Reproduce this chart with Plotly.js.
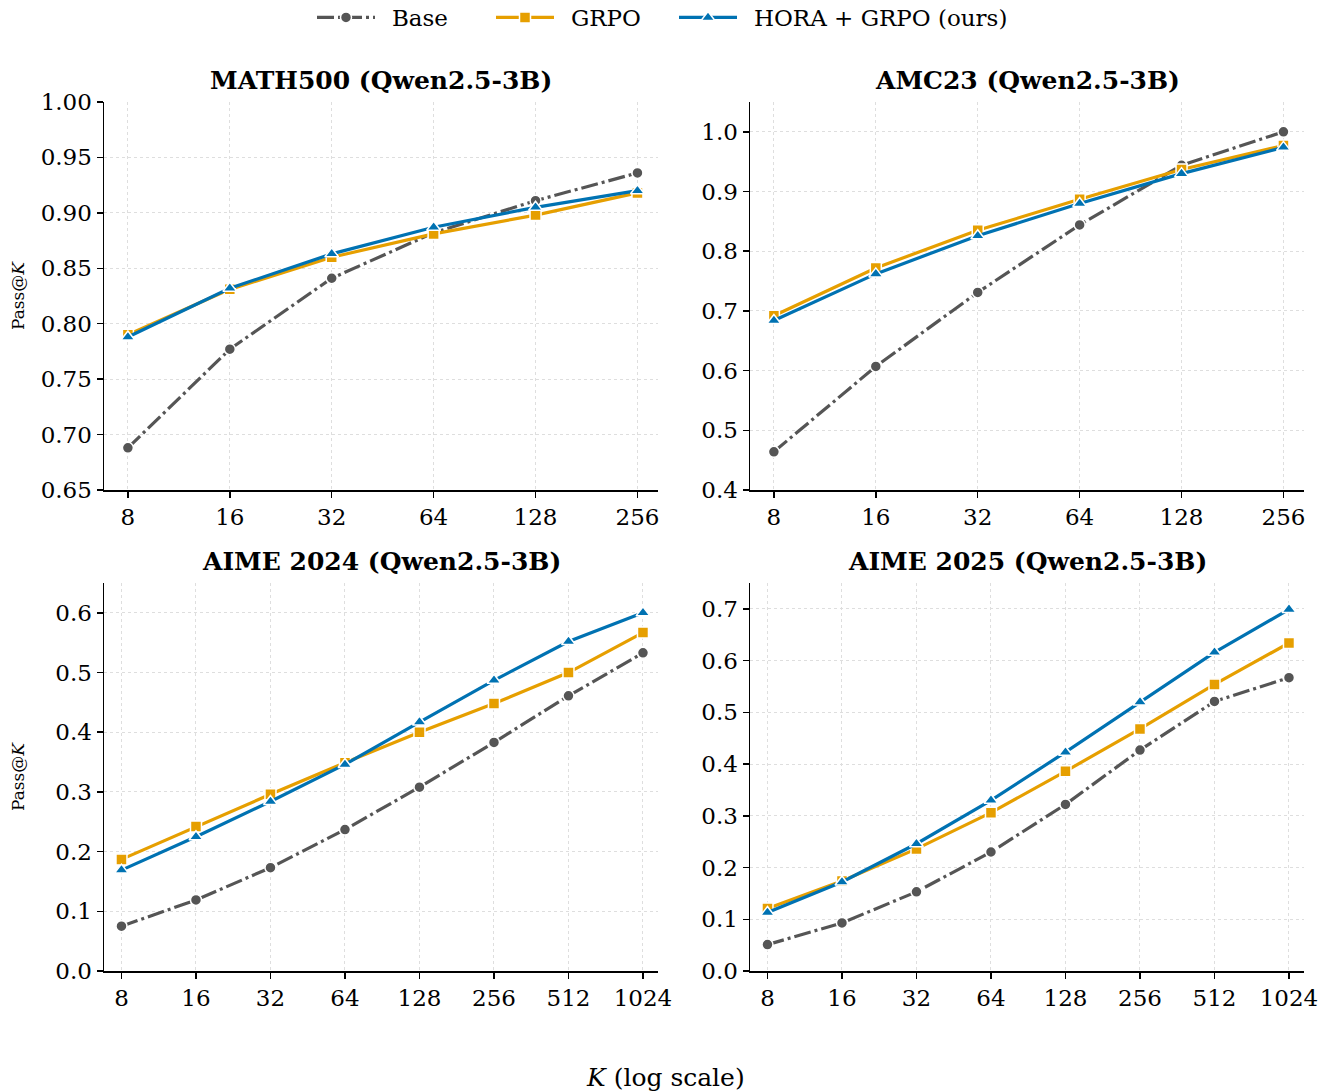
<!DOCTYPE html>
<html>
<head>
<meta charset="utf-8">
<script src="https://cdn.plot.ly/plotly-3.0.1.min.js"></script>
<style>
  html, body { margin: 0; padding: 0; background: #ffffff; }
  #chart { width: 1333px; height: 1091px; }
</style>
</head>
<body>
<div id="chart"></div>
<script>
// ---------- data ----------
const seriesNames = ["Base", "GRPO", "HORA + GRPO (ours)"];
const panelTitles = ["MATH500 (Qwen2.5-3B)", "AMC23 (Qwen2.5-3B)", "AIME 2024 (Qwen2.5-3B)", "AIME 2025 (Qwen2.5-3B)"];

const kShort = [8, 16, 32, 64, 128, 256];
const kLong = [8, 16, 32, 64, 128, 256, 512, 1024];

const math500Base = [0.688, 0.777, 0.841, 0.882, 0.911, 0.936];
const math500Grpo = [0.790, 0.831, 0.860, 0.881, 0.898, 0.918];
const math500Hora = [0.788, 0.832, 0.863, 0.887, 0.905, 0.920];

const amc23Base = [0.464, 0.607, 0.731, 0.844, 0.944, 1.000];
const amc23Grpo = [0.692, 0.772, 0.835, 0.887, 0.937, 0.977];
const amc23Hora = [0.684, 0.762, 0.826, 0.880, 0.930, 0.974];

const aime24Base = [0.075, 0.119, 0.173, 0.237, 0.308, 0.383, 0.461, 0.533];
const aime24Grpo = [0.187, 0.242, 0.296, 0.349, 0.400, 0.448, 0.500, 0.567];
const aime24Hora = [0.169, 0.225, 0.284, 0.346, 0.417, 0.487, 0.552, 0.600];

const aime25Base = [0.051, 0.093, 0.153, 0.230, 0.322, 0.427, 0.521, 0.567];
const aime25Grpo = [0.121, 0.174, 0.236, 0.306, 0.386, 0.468, 0.554, 0.634];
const aime25Hora = [0.113, 0.172, 0.246, 0.330, 0.423, 0.520, 0.616, 0.699];

// ---------- styling ----------
const FONT = "DejaVu Serif, Liberation Serif, serif";
const colors = ["#555555", "#E69F00", "#0072B2"];
const symbols = ["circle", "square", "triangle-up"];
const markerSizes = [11, 11, 12];
const dashes = ["17px,4px,3px,4px", "solid", "solid"];
const TICK = 23;

const panels = [
  { k: kShort, ys: [math500Base, math500Grpo, math500Hora], yrange: [0.65, 1.0], dtick: 0.05, fmt: ".2f", y0: 0.65 },
  { k: kShort, ys: [amc23Base, amc23Grpo, amc23Hora], yrange: [0.4, 1.05], dtick: 0.1, fmt: ".1f", y0: 0.4 },
  { k: kLong, ys: [aime24Base, aime24Grpo, aime24Hora], yrange: [0, 0.65], dtick: 0.1, fmt: ".1f", y0: 0 },
  { k: kLong, ys: [aime25Base, aime25Grpo, aime25Hora], yrange: [0, 0.75], dtick: 0.1, fmt: ".1f", y0: 0 }
];

const W = 1333, H = 1091;
const xDomains = [[104 / W, 658 / W], [750 / W, 1304 / W], [104 / W, 658 / W], [750 / W, 1304 / W]];
const yDomains = [[1 - 490 / H, 1 - 102 / H], [1 - 490 / H, 1 - 102 / H], [1 - 971 / H, 1 - 583 / H], [1 - 971 / H, 1 - 583 / H]];
const legendIds = ["legend", "legend2", "legend3"];
const legendX = [312, 491, 674];

const traces = [];
const layout = {
  width: W, height: H,
  margin: { l: 0, r: 0, t: 0, b: 0, autoexpand: false },
  paper_bgcolor: "#ffffff",
  plot_bgcolor: "#ffffff",
  font: { family: FONT, size: TICK, color: "#000000" },
  showlegend: true,
  annotations: []
};
legendIds.forEach((id, s) => {
  layout[id] = {
    orientation: "h", x: legendX[s] / W, xanchor: "left", y: 1 + 4 / H, yanchor: "top",
    font: { family: FONT, size: 23, color: "#000" },
    itemwidth: 58, bgcolor: "rgba(0,0,0,0)"
  };
});

panels.forEach((p, i) => {
  const n = i + 1;
  const xa = n === 1 ? "x" : "x" + n;
  const ya = n === 1 ? "y" : "y" + n;
  p.ys.forEach((vals, s) => {
    traces.push({
      type: "scatter", mode: "lines+markers",
      x: p.k, y: vals, xaxis: xa, yaxis: ya,
      name: "\u00a0\u2009" + seriesNames[s], legend: legendIds[s], showlegend: i === 0,
      line: { color: colors[s], width: 3.2, dash: dashes[s] },
      marker: { symbol: symbols[s], size: markerSizes[s], color: colors[s], line: { color: "#ffffff", width: 1.5 } },
      cliponaxis: false
    });
  });
  const kmin = p.k[0], kmax = p.k[p.k.length - 1];
  layout["xaxis" + (n === 1 ? "" : n)] = {
    domain: xDomains[i], anchor: ya, type: "log",
    range: [Math.log10(kmin * 0.85), Math.log10(kmax * 1.15)],
    tickmode: "array", tickvals: p.k, ticktext: p.k.map(String),
    showline: true, linecolor: "#000", linewidth: 1.5, mirror: false,
    ticks: "outside", ticklen: 6, tickwidth: 1.5, tickcolor: "#000",
    showgrid: true, gridcolor: "#dedede", gridwidth: 1, griddash: "dot",
    zeroline: false, tickfont: { family: FONT, size: TICK, color: "#000" }
  };
  layout["yaxis" + (n === 1 ? "" : n)] = {
    domain: yDomains[i], anchor: xa,
    range: p.yrange, tick0: p.y0, dtick: p.dtick, tickformat: p.fmt,
    showline: true, linecolor: "#000", linewidth: 1.5, mirror: false,
    ticks: "outside", ticklen: 6, tickwidth: 1.5, tickcolor: "#000",
    showgrid: true, gridcolor: "#dedede", gridwidth: 1, griddash: "dot",
    zeroline: false, tickfont: { family: FONT, size: TICK, color: "#000" }
  };
  // panel title
  layout.annotations.push({
    text: "<b>" + panelTitles[i] + "</b>", xref: "paper", yref: "paper",
    x: (xDomains[i][0] + xDomains[i][1]) / 2, xanchor: "center",
    y: yDomains[i][1] + 22 / H, yanchor: "middle", showarrow: false,
    font: { family: FONT, size: 25, color: "#000" }
  });
  if (i % 2 === 0) {
    layout.annotations.push({
      text: "Pass@<i>K</i>", xref: "paper", yref: "paper",
      x: 18 / W, xanchor: "center", y: (yDomains[i][0] + yDomains[i][1]) / 2, yanchor: "middle",
      textangle: -90, showarrow: false, font: { family: FONT, size: 17, color: "#000" }
    });
  }
});

layout.annotations.push({
  text: "<i>K</i> (log scale)", xref: "paper", yref: "paper",
  x: 665 / W, xanchor: "center", y: 1 - 1077 / H, yanchor: "middle",
  showarrow: false, font: { family: FONT, size: 25, color: "#000" }
});

Plotly.newPlot("chart", traces, layout, { displayModeBar: false, staticPlot: true });
</script>
</body>
</html>
